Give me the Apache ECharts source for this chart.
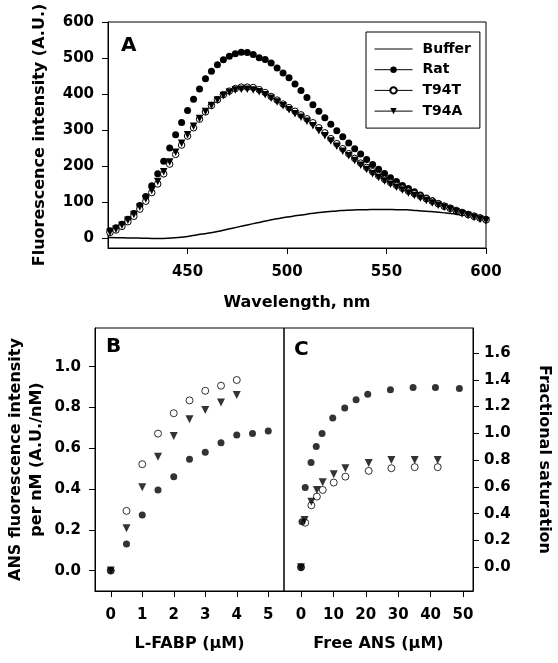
<!DOCTYPE html>
<html>
<head>
<meta charset="utf-8">
<script src="https://cdn.jsdelivr.net/npm/echarts@6/dist/echarts.min.js"></script>
<style>html,body{margin:0;padding:0;background:#fff}#c{width:558px;height:663px}</style>
</head>
<body>
<div id="c"></div>
<script>
// ---------- Panel A: emission spectra ----------
const wavelength = [411,414,417,420,423,426,429,432,435,438,441,444,447,450,453,456,459,462,465,468,471,474,477,480,483,486,489,492,495,498,501,504,507,510,513,516,519,522,525,528,531,534,537,540,543,546,549,552,555,558,561,564,567,570,573,576,579,582,585,588,591,594,597,600];
const ratA = [20,28,38,52,68,90,115,145,178,213,250,287,321,354,385,414,442,463,481,495,505,512,516,515,510,501,496,486,472,458,445,428,410,390,370,352,334,316,298,281,264,248,233,218,204,191,179,167,157,146,137,128,119,111,103,96,89,83,77,71,66,61,56,52];
const t94tA = [15,22,32,45,60,80,102,126,150,178,205,232,258,283,306,330,350,368,384,398,408,415,419,419,418,412,404,393,383,372,362,352,342,331,320,306,292,276,262,248,234,221,208,196,184,173,163,154,146,138,130,123,116,109,102,95,88,82,76,70,65,60,55,50];
const t94aA = [16,24,35,49,65,86,108,132,157,184,211,238,263,287,310,332,351,368,383,396,405,411,413,413,411,406,398,388,378,367,356,345,335,324,312,298,284,269,255,241,228,215,202,190,178,168,158,149,141,133,125,118,111,104,97,91,85,79,73,67,62,57,52,48];
const bufferWl = [410,415,420,425,430,435,440,445,450,455,460,465,470,475,480,485,490,495,500,505,510,515,520,525,530,535,540,545,550,555,560,565,570,575,580,585,590,595,600];
const bufferA = [1,0.5,0,-0.5,-1,-1.5,-1,1,4,9,13,18,24,30,36,42,48,53,58,62,66,70,73,75,77,78,78.5,79,79,78.5,78,76,74,72,69,66,62,58,54];
const xTicksA = [450,500,550,600];
const yTicksA = [0,100,200,300,400,500,600];

// ---------- Panel B: titration with L-FABP ----------
const fabpRat = [0,0.5,1,1.5,2,2.5,3,3.5,4,4.5,5];
const ratB = [0,0.131,0.273,0.396,0.461,0.546,0.580,0.627,0.665,0.672,0.685];
const fabpMut = [0,0.5,1,1.5,2,2.5,3,3.5,4];
const t94tB = [0,0.293,0.522,0.672,0.772,0.835,0.882,0.907,0.935];
const t94aB = [0,0.208,0.409,0.559,0.660,0.742,0.788,0.824,0.861];
const xTicksB = [0,1,2,3,4,5];
const yTicksB = [0,0.2,0.4,0.6,0.8,1.0];

// ---------- Panel C: saturation vs free ANS ----------
const ratCx = [0,0.3,1.3,3.1,4.7,6.5,9.8,13.5,17.0,20.6,27.6,34.6,41.5,48.9];
const ratCy = [0,0.341,0.595,0.782,0.902,0.999,1.114,1.189,1.251,1.293,1.326,1.343,1.343,1.336];
const t94tCx = [0,1.3,3.2,4.9,6.7,10.1,13.7,20.9,27.9,35.1,42.2];
const t94tCy = [0,0.333,0.463,0.528,0.578,0.633,0.677,0.720,0.740,0.748,0.748];
const t94aCx = [0,1.1,3.2,4.9,6.7,10.1,13.7,20.9,27.9,35.1,42.2];
const t94aCy = [0,0.354,0.490,0.578,0.636,0.695,0.740,0.778,0.802,0.802,0.802];
const xTicksC = [0,10,20,30,40,50];
const yTicksC = [0,0.2,0.4,0.6,0.8,1.0,1.2,1.4,1.6];

const FONT = 'DejaVu Sans';
const zip = (xs, ys) => xs.map((x, i) => [x, ys[i]]);
const lbl = (extra) => Object.assign({fontFamily: FONT, fontWeight: 'bold', fontSize: 15, color: '#000'}, extra || {});
const nameStyle = (extra) => Object.assign({fontFamily: FONT, fontWeight: 'bold', fontSize: 16, color: '#000'}, extra || {});

function valAxis(o) {
  return {
    type: 'value', gridIndex: o.grid, min: o.min, max: o.max, position: o.position,
    name: o.name, nameLocation: 'middle', nameGap: o.nameGap, nameRotate: o.nameRotate,
    nameTextStyle: nameStyle(o.nameStyle),
    axisLine: {show: true, onZero: false, lineStyle: {color: '#000', width: 1}},
    axisTick: {show: true, inside: false, length: 6, customValues: o.ticks, lineStyle: {color: '#000', width: 1}},
    axisLabel: {show: true, margin: o.margin, customValues: o.ticks, formatter: o.fmt, ...lbl()},
    splitLine: {show: false}
  };
}

const black = '#000';
const filled = {color: black};
const open = {color: '#fff', borderColor: black, borderWidth: 1};
const hiddenLine = {color: black, width: 1, opacity: 0};
const clear = 'rgba(0,0,0,0)';

const option = {
  animation: false,
  backgroundColor: '#fff',
  title: [
    {text: 'A', left: 121, top: 36, padding: 0, textStyle: {fontFamily: FONT, fontWeight: 'bold', fontSize: 20, color: black}},
    {text: 'B', left: 106, top: 337, padding: 0, textStyle: {fontFamily: FONT, fontWeight: 'bold', fontSize: 20, color: black}},
    {text: 'C', left: 294, top: 340, padding: 0, textStyle: {fontFamily: FONT, fontWeight: 'bold', fontSize: 20, color: black}}
  ],
  legend: {
    data: [{name: 'Buffer', itemStyle: {color: clear, borderColor: clear, borderWidth: 0}}, 'Rat', 'T94T', 'T94A'],
    orient: 'vertical', left: 366, top: 32, padding: [10, 9, 10, 8],
    itemWidth: 38, itemHeight: 8, itemGap: 6.7,
    borderColor: black, borderWidth: 1, selectedMode: false,
    lineStyle: {color: black, width: 1, opacity: 1},
    textStyle: {fontFamily: FONT, fontWeight: 'bold', fontSize: 14, color: black, padding: [0, 0, 0, 5]}
  },
  grid: [
    {left: 108, top: 22, width: 378, height: 226, show: true, borderColor: black, borderWidth: 1, backgroundColor: 'transparent'},
    {left: 95, top: 328, width: 189, height: 263, show: true, borderColor: black, borderWidth: 1, backgroundColor: 'transparent'},
    {left: 284, top: 328, width: 189, height: 263, show: true, borderColor: black, borderWidth: 1, backgroundColor: 'transparent'}
  ],
  xAxis: [
    valAxis({grid: 0, min: 410, max: 600, ticks: xTicksA, margin: 17, name: 'Wavelength, nm', nameGap: 47}),
    valAxis({grid: 1, min: -0.5, max: 5.5, ticks: xTicksB, margin: 17, name: 'L-FABP (\u03bcM)', nameGap: 45}),
    valAxis({grid: 2, min: -5.25, max: 53.1, ticks: xTicksC, margin: 17, name: 'Free ANS (\u03bcM)', nameGap: 45})
  ],
  yAxis: [
    valAxis({grid: 0, min: -28, max: 600, ticks: yTicksA, margin: 14, name: 'Fluorescence intensity (A.U.)', nameGap: 60, nameRotate: 90}),
    valAxis({grid: 1, min: -0.1, max: 1.19, ticks: yTicksB, margin: 14, fmt: v => v.toFixed(1),
      name: 'ANS fluorescence intensity\nper nM (A.U./nM)', nameGap: 48, nameRotate: 90, nameStyle: {lineHeight: 21}}),
    valAxis({grid: 2, min: -0.177, max: 1.787, ticks: yTicksC, margin: 11, position: 'right', fmt: v => v.toFixed(1),
      name: 'Fractional saturation', nameGap: 63, nameRotate: -90})
  ],
  series: [
    {name: 'Buffer', type: 'line', xAxisIndex: 0, yAxisIndex: 0, data: zip(bufferWl, bufferA), symbol: 'none', smooth: true,
      lineStyle: {color: black, width: 1.5}, itemStyle: {color: black}},
    {name: 'Rat', type: 'line', xAxisIndex: 0, yAxisIndex: 0, data: zip(wavelength, ratA), symbol: 'circle', symbolSize: 7,
      lineStyle: hiddenLine, itemStyle: filled},
    {name: 'T94T', type: 'line', xAxisIndex: 0, yAxisIndex: 0, data: zip(wavelength, t94tA), symbol: 'circle', symbolSize: 6.5,
      lineStyle: hiddenLine, itemStyle: open},
    {name: 'T94A', type: 'line', xAxisIndex: 0, yAxisIndex: 0, data: zip(wavelength, t94aA), symbol: 'triangle', symbolRotate: 180, symbolSize: 7.5,
      lineStyle: hiddenLine, itemStyle: filled},

    {name: 'T94T B', type: 'scatter', xAxisIndex: 1, yAxisIndex: 1, data: zip(fabpMut, t94tB), symbol: 'circle', symbolSize: 7, itemStyle: open},
    {name: 'T94A B', type: 'scatter', xAxisIndex: 1, yAxisIndex: 1, data: zip(fabpMut, t94aB), symbol: 'triangle', symbolRotate: 180, symbolSize: 8, itemStyle: filled},
    {name: 'Rat B', type: 'scatter', xAxisIndex: 1, yAxisIndex: 1, data: zip(fabpRat, ratB), symbol: 'circle', symbolSize: 7, itemStyle: filled},

    {name: 'T94T C', type: 'scatter', xAxisIndex: 2, yAxisIndex: 2, data: zip(t94tCx, t94tCy), symbol: 'circle', symbolSize: 7, itemStyle: open},
    {name: 'T94A C', type: 'scatter', xAxisIndex: 2, yAxisIndex: 2, data: zip(t94aCx, t94aCy), symbol: 'triangle', symbolRotate: 180, symbolSize: 8, itemStyle: filled},
    {name: 'Rat C', type: 'scatter', xAxisIndex: 2, yAxisIndex: 2, data: zip(ratCx, ratCy), symbol: 'circle', symbolSize: 7, itemStyle: filled}
  ]
};

const chart = echarts.init(document.getElementById('c'), null, {renderer: 'canvas'});
chart.setOption(option);
</script>
</body>
</html>
